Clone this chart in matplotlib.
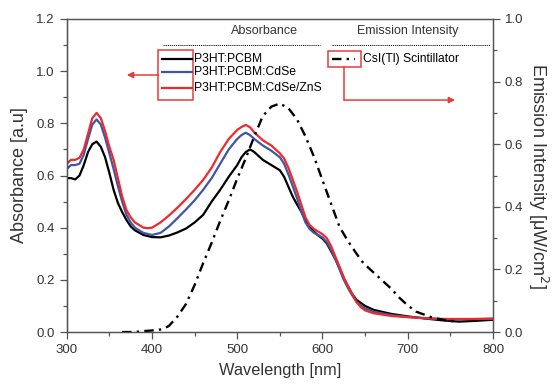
import matplotlib
matplotlib.use("Agg")
import matplotlib.pyplot as plt
from matplotlib.patches import Rectangle
from matplotlib.ticker import MultipleLocator
from matplotlib.lines import Line2D

plt.rcParams['font.family'] = ['Liberation Sans', 'DejaVu Sans']

# ---------------- data ----------------
wl_black = [300, 305, 310, 315, 320, 325, 330, 335, 340, 345, 350, 355, 360, 365, 370, 375, 380, 390, 400,
            410, 420, 430, 440, 450, 460, 470, 480, 490, 500, 505, 510, 515, 520, 525, 530, 540, 550, 555,
            560, 565, 570, 575, 580, 585, 590, 595, 600, 605, 610, 615, 620, 625, 630, 635, 640, 650, 660,
            680, 700, 720, 740, 760, 780, 800]
abs_black = [0.59, 0.59, 0.585, 0.60, 0.64, 0.69, 0.72, 0.73, 0.71, 0.67, 0.61, 0.545, 0.495, 0.46, 0.43,
             0.405, 0.39, 0.372, 0.364, 0.363, 0.37, 0.382, 0.397, 0.42, 0.449, 0.50, 0.545, 0.595, 0.64,
             0.67, 0.69, 0.70, 0.69, 0.675, 0.66, 0.64, 0.62, 0.595, 0.557, 0.52, 0.49, 0.462, 0.43, 0.404,
             0.385, 0.37, 0.358, 0.34, 0.31, 0.28, 0.245, 0.205, 0.175, 0.145, 0.123, 0.10, 0.085, 0.07,
             0.06, 0.052, 0.045, 0.04, 0.043, 0.047]

wl_blue = [300, 305, 310, 315, 320, 325, 330, 335, 340, 345, 350, 355, 360, 365, 370, 375, 380, 390, 400,
           410, 420, 430, 440, 450, 460, 470, 480, 490, 500, 505, 510, 515, 520, 530, 540, 550, 555, 560,
           565, 570, 575, 580, 585, 590, 595, 600, 605, 610, 615, 620, 625, 630, 635, 640, 650, 660, 680,
           700, 720, 740, 760, 780, 800]
abs_blue = [0.625, 0.64, 0.64, 0.645, 0.68, 0.74, 0.795, 0.815, 0.795, 0.745, 0.685, 0.625, 0.56, 0.50,
            0.45, 0.42, 0.40, 0.38, 0.372, 0.38, 0.405, 0.437, 0.47, 0.505, 0.545, 0.59, 0.645, 0.70, 0.74,
            0.755, 0.764, 0.755, 0.74, 0.715, 0.695, 0.67, 0.645, 0.605, 0.56, 0.515, 0.465, 0.42, 0.395,
            0.38, 0.372, 0.362, 0.345, 0.315, 0.28, 0.24, 0.20, 0.168, 0.14, 0.115, 0.09, 0.078, 0.065,
            0.058, 0.053, 0.05, 0.049, 0.05, 0.05]

wl_red = [300, 305, 310, 315, 320, 325, 330, 335, 340, 345, 350, 355, 360, 365, 370, 375, 380, 390, 395,
          400, 410, 420, 430, 440, 450, 460, 470, 480, 490, 500, 505, 510, 515, 520, 530, 540, 545, 550,
          555, 560, 565, 570, 575, 580, 585, 590, 595, 600, 605, 610, 615, 620, 625, 630, 635, 640, 645,
          650, 660, 680, 700, 720, 740, 760, 780, 800]
abs_red = [0.645, 0.66, 0.66, 0.668, 0.70, 0.76, 0.82, 0.84, 0.82, 0.77, 0.71, 0.66, 0.59, 0.52, 0.468,
           0.44, 0.42, 0.40, 0.398, 0.40, 0.42, 0.447, 0.477, 0.51, 0.545, 0.583, 0.63, 0.69, 0.74, 0.775,
           0.786, 0.794, 0.785, 0.765, 0.735, 0.715, 0.70, 0.685, 0.665, 0.63, 0.585, 0.54, 0.49, 0.44,
           0.41, 0.395, 0.385, 0.375, 0.36, 0.33, 0.29, 0.25, 0.21, 0.175, 0.145, 0.115, 0.095, 0.083,
           0.072, 0.062, 0.057, 0.053, 0.05, 0.05, 0.05, 0.052]

wl_emis = [365, 380, 390, 400, 410, 415, 420, 430, 440, 450, 460, 470, 480, 490, 500, 510, 520, 530, 540,
           550, 560, 570, 580, 590, 600, 610, 620, 630, 640, 648, 660, 670, 680, 690, 700, 710, 720, 730,
           740, 750, 760]
emis = [0.0, 0.0, 0.003, 0.005, 0.008, 0.012, 0.02, 0.05, 0.09, 0.15, 0.22, 0.285, 0.355, 0.42, 0.49,
        0.555, 0.625, 0.69, 0.72, 0.73, 0.715, 0.68, 0.625, 0.56, 0.485, 0.41, 0.336, 0.29, 0.25, 0.22,
        0.19, 0.165, 0.14, 0.11, 0.085, 0.065, 0.055, 0.045, 0.04, 0.035, 0.035]

labels_abs = ["P3HT:PCBM", "P3HT:PCBM:CdSe", "P3HT:PCBM:CdSe/ZnS"]
label_emis = "CsI(Tl) Scintillator"

c_black = "#000000"
c_blue = "#3f55a8"
c_red = "#ec2a2c"
c_frame = "#e83a3a"

# ---------------- figure ----------------
fig = plt.figure(figsize=(5.56, 3.87), dpi=100)
ax = fig.add_axes([0.12, 0.142, 0.7667, 0.809])
ax2 = ax.twinx()

lw = 1.6
ax.plot(wl_black, abs_black, color=c_black, lw=lw)
ax.plot(wl_blue, abs_blue, color=c_blue, lw=lw)
ax.plot(wl_red, abs_red, color=c_red, lw=lw)
ln, = ax2.plot(wl_emis, emis, color="black", lw=1.7)
ln.set_dashes((4, 2.2, 1, 2.2))

ax.set_xlim(300, 800)
ax.set_ylim(0, 1.2)
ax2.set_ylim(0, 1.0)

spine_c = "#555555"
for a in (ax, ax2):
    for s in a.spines.values():
        s.set_color(spine_c)
        s.set_linewidth(0.9)
ax.spines['left'].set_color("black")

ax.xaxis.set_major_locator(MultipleLocator(100))
ax.xaxis.set_minor_locator(MultipleLocator(50))
ax.yaxis.set_major_locator(MultipleLocator(0.2))
ax.yaxis.set_minor_locator(MultipleLocator(0.1))
ax2.yaxis.set_major_locator(MultipleLocator(0.2))
ax2.yaxis.set_minor_locator(MultipleLocator(0.1))
ax.xaxis.set_major_formatter(plt.FuncFormatter(lambda v, p: f"{v:.0f}"))
ax.yaxis.set_major_formatter(plt.FuncFormatter(lambda v, p: f"{v:.1f}"))
ax2.yaxis.set_major_formatter(plt.FuncFormatter(lambda v, p: f"{v:.1f}"))

tc = "#333333"
ax.tick_params(axis='both', which='major', direction='out', length=5, width=0.9,
               labelsize=9.5, colors=spine_c, labelcolor=tc)
ax.tick_params(axis='both', which='minor', direction='out', length=3, width=0.9, colors=spine_c)
ax2.tick_params(axis='y', which='major', direction='out', length=5, width=0.9,
                labelsize=9.5, colors=spine_c, labelcolor=tc)
ax2.tick_params(axis='y', which='minor', direction='out', length=3, width=0.9, colors=spine_c)

ax.set_xlabel("Wavelength [nm]", fontsize=11.8, color=tc, labelpad=5)
ax.set_ylabel("Absorbance [a.u]", fontsize=13, color=tc, labelpad=6)
ax2.set_ylabel("Emission Intensity [μW/cm$^2$]", fontsize=13, color=tc, rotation=270, labelpad=19)

# ---------------- custom legend ----------------
T = ax.transAxes
ax.text(0.465, 0.962, "Absorbance", transform=T, ha='center', va='center', fontsize=9, color=tc)
ax.text(0.80, 0.962, "Emission Intensity", transform=T, ha='center', va='center', fontsize=9, color=tc)
for x0, x1 in ((0.226, 0.594), (0.622, 0.993)):
    l = Line2D([x0, x1], [0.917, 0.917], transform=T, color="black", lw=0.6)
    l.set_dashes((1.5, 1.0))
    ax.add_line(l)

rows = [0.872, 0.830, 0.779]
for yy, col, lab in zip(rows, [c_black, c_blue, c_red], labels_abs):
    ax.add_line(Line2D([0.224, 0.294], [yy, yy], transform=T, color=col, lw=lw))
    ax.text(0.299, yy, lab, transform=T, ha='left', va='center', fontsize=8.7, color="black")

ax.add_patch(Rectangle((0.215, 0.741), 0.082, 0.160, transform=T, fill=False,
                       edgecolor=c_frame, lw=1.1))
ax.annotate("", xy=(0.141, 0.821), xytext=(0.215, 0.821), xycoords=T, textcoords=T,
            arrowprops=dict(arrowstyle="-|>", color=c_frame, lw=1.1, mutation_scale=9,
                            shrinkA=0, shrinkB=0))

l2 = Line2D([0.622, 0.676], [0.872, 0.872], transform=T, color="black", lw=1.7)
l2.set_dashes((4, 2.2, 1, 2.2))
ax.add_line(l2)
ax.text(0.696, 0.872, label_emis, transform=T, ha='left', va='center', fontsize=8.7, color="black")
ax.add_patch(Rectangle((0.612, 0.846), 0.078, 0.053, transform=T, fill=False,
                       edgecolor=c_frame, lw=1.1))
ax.add_line(Line2D([0.651, 0.651], [0.846, 0.741], transform=T, color=c_frame, lw=1.1))
ax.annotate("", xy=(0.911, 0.741), xytext=(0.651, 0.741), xycoords=T, textcoords=T,
            arrowprops=dict(arrowstyle="-|>", color=c_frame, lw=1.1, mutation_scale=9,
                            shrinkA=0, shrinkB=0))

fig.savefig("out.png", dpi=100)
